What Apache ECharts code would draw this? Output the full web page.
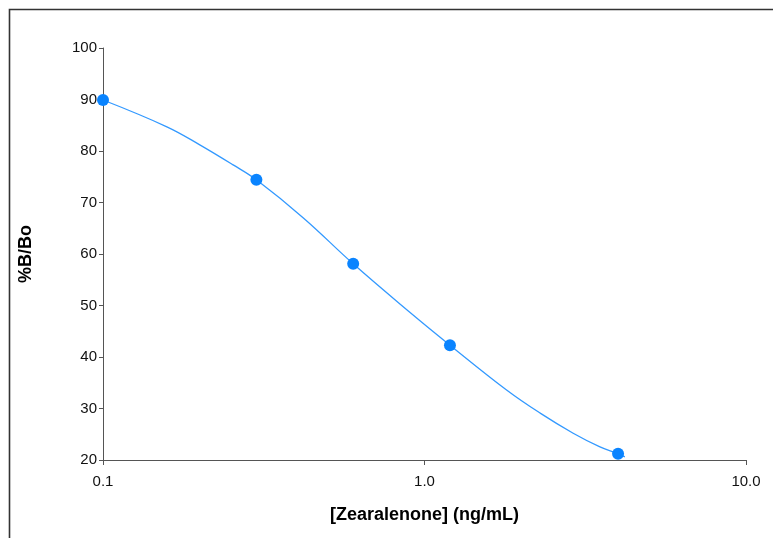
<!DOCTYPE html>
<html>
<head>
<meta charset="utf-8">
<script src="https://cdn.jsdelivr.net/npm/echarts@6/dist/echarts.min.js"></script>
<style>html,body{margin:0;padding:0;background:#fff}#c{width:773px;height:538px}</style>
</head>
<body>
<div id="c"></div>
<script>
var concentrations = [0.1, 0.3, 0.6, 1.2, 4.0];
var bBo = [89.9, 74.4, 58.1, 42.3, 21.2];
// fitted curve
var fitX = [0.1, 0.158, 0.2, 0.254, 0.3, 0.42, 0.6, 0.9, 1.2, 1.8, 2.29, 2.9, 3.5, 4.0, 4.2];
var fitY = [89.9, 84.7, 81.2, 77.3, 74.4, 67.0, 58.1, 48.7, 42.3, 33.6, 29.1, 25.2, 22.6, 21.2, 20.6];
var xTickLabels = {0.1: '0.1', 1: '1.0', 10: '10.0'};
var xTitle = '[Zearalenone] (ng/mL)';
var yTitle = '%B/Bo';

var pts = concentrations.map(function (c, i) { return [c, bBo[i]]; });
var fit = fitX.map(function (c, i) { return [c, fitY[i]]; });
var chart = echarts.init(document.getElementById('c'));
chart.setOption({
  animation: false,
  graphic: [{
    type: 'rect', left: 7, top: 7, z: -1,
    shape: { width: 820, height: 600 },
    style: { fill: 'none', stroke: '#333', lineWidth: 1.6 }
  }],
  grid: { left: 103, right: 27, top: 48, bottom: 78 },
  xAxis: {
    type: 'log', logBase: 10, min: 0.1, max: 10,
    name: xTitle, nameLocation: 'middle', nameGap: 46,
    nameTextStyle: { fontFamily: 'Liberation Sans', fontWeight: 'bold', fontSize: 18, color: '#000' },
    axisLine: { lineStyle: { color: '#555' } },
    axisTick: { show: true, length: 5, lineStyle: { color: '#555' } },
    axisLabel: { margin: 14, fontFamily: 'Liberation Sans', fontSize: 15, color: '#111',
      formatter: function (v) { var k = Math.round(Math.log10(v)); return xTickLabels[Math.pow(10, k)] || ''; } },
    splitLine: { show: false }
  },
  yAxis: {
    type: 'value', min: 20, max: 100, interval: 10,
    name: yTitle, nameLocation: 'middle', nameGap: 68, nameRotate: 90,
    nameTextStyle: { fontFamily: 'Liberation Sans', fontWeight: 'bold', fontSize: 18, color: '#000' },
    axisLine: { show: true, lineStyle: { color: '#555' } },
    axisTick: { show: true, length: 4, lineStyle: { color: '#555' } },
    axisLabel: { margin: 6, fontFamily: 'Liberation Sans', fontSize: 15, color: '#111' },
    splitLine: { show: false }
  },
  series: [{
    type: 'line', data: fit, smooth: 0.4, showSymbol: false,
    lineStyle: { color: '#3399ff', width: 1.3 }, z: 2
  }, {
    type: 'scatter', data: pts, symbolSize: 12,
    itemStyle: { color: '#0a84ff', opacity: 1 }, z: 3
  }]
});
</script>
</body>
</html>
